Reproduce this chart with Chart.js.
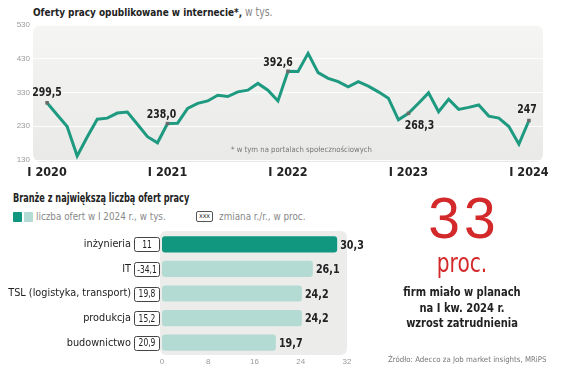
<!DOCTYPE html>
<html>
<head>
<meta charset="utf-8">
<script src="https://cdn.jsdelivr.net/npm/chart.js@4/dist/chart.umd.min.js"></script>
<style>
  body { margin:0; background:#fff; }
  #wrap { position:relative; width:564px; height:377px; overflow:hidden; background:#fff;
          font-family:"DejaVu Sans Condensed","Liberation Sans Narrow","Liberation Sans",sans-serif; color:#222; }
  .abs { position:absolute; white-space:nowrap; }
  .sqL { transform-origin:left center; }
  .sqC { transform-origin:center center; }
  canvas { position:absolute; }
</style>
</head>
<body>
<div id="wrap">
  <div class="abs sqL" style="left:33px;top:6px;font-size:11px;line-height:13px;transform:scaleX(0.9)">
    <b>Oferty pracy opublikowane w internecie*,</b><span style="color:#888;font-size:11.5px"> w tys.</span>
  </div>
  <canvas id="line" width="564" height="182" style="left:0;top:0"></canvas>
  <div class="abs" style="left:231px;top:145px;font-size:7.7px;line-height:10px;color:#777;">* w tym na portalach społecznościowych</div>

  <div class="abs sqL" style="left:13px;top:192px;font-size:11.5px;line-height:13px;font-weight:bold;transform:scaleX(0.79)">Branże z największą liczbą ofert pracy</div>
  <div class="abs" style="left:13px;top:212px;width:9px;height:10px;background:#11967f;border-radius:1px"></div>
  <div class="abs" style="left:24px;top:212px;width:9px;height:10px;background:#b4dbd3;border-radius:1px"></div>
  <div class="abs" style="left:36px;top:211px;font-size:9.8px;line-height:12px;color:#888;">liczba ofert w I 2024 r., w tys.</div>
  <div class="abs" style="left:196px;top:211px;width:15px;height:9px;border:1px solid #555;border-radius:2px;font-size:7px;line-height:9px;text-align:center;color:#333;">xxx</div>
  <div class="abs" style="left:219px;top:211px;font-size:9.8px;line-height:12px;color:#888;">zmiana r./r., w proc.</div>
  <canvas id="bars" width="390" height="145" style="left:0;top:225px"></canvas>

  <div class="abs" style="left:362px;width:200px;top:190px;text-align:center;color:#d3292a;font-family:'Liberation Sans',sans-serif;font-size:57px;line-height:57px;letter-spacing:4px;padding-left:4px;box-sizing:border-box;">33</div>
  <div class="abs sqC" style="left:362px;width:200px;top:249px;text-align:center;color:#d3292a;font-size:27px;line-height:27px;transform:scaleX(0.83)">proc.</div>
  <div class="abs sqC" style="left:362px;width:200px;top:284px;text-align:center;font-size:12.5px;line-height:15.5px;font-weight:bold;color:#222;transform:scaleX(0.885)">firm miało w planach<br>na I kw. 2024 r.<br>wzrost zatrudnienia</div>
  <div class="abs" style="left:388px;top:355px;font-size:7.8px;line-height:10px;color:#777;">Źródło: Adecco za Job market insights, MRiPS</div>
</div>
<script>
const FN = '"DejaVu Sans Condensed","Liberation Sans Narrow","Liberation Sans",sans-serif';

// monthly job offers online, Jan 2020 .. Jan 2024 (thousands)
const offers2020 = [299.5, 264, 229, 142, 198, 251, 254, 269, 272, 236, 199, 181];
const offers2021 = [238.0, 239, 283, 298, 305, 322, 318, 332, 337, 357, 337, 305];
const offers2022 = [392.6, 392, 446, 389, 372, 362, 347, 362, 349, 332, 313, 249];
const offers2023 = [268.3, 298, 329, 273, 310, 280, 286, 293, 260, 254, 229, 177];
const offers2024 = [247];
const monthly = [...offers2020, ...offers2021, ...offers2022, ...offers2023, ...offers2024];
const yearTicks = ['I 2020', 'I 2021', 'I 2022', 'I 2023', 'I 2024'];
const markIdx = [0, 12, 24, 36, 48];
const markText = ['299,5', '238,0', '392,6', '268,3', '247'];

// industries
const industries = ['inżynieria', 'IT', 'TSL (logistyka, transport)', 'produkcja', 'budownictwo'];
const jobOffers = [30.3, 26.1, 24.2, 24.2, 19.7];
const yoyChange = ['11', '-34,1', '19,8', '15,2', '20,9'];

// draw text squeezed horizontally (condensed look)
function squeeze(ctx, text, x, y, sx) {
  ctx.save();
  ctx.translate(x, y);
  ctx.scale(sx, 1);
  ctx.fillText(text, 0, 0);
  ctx.restore();
}

const lineBg = {
  id: 'lineBg',
  beforeDraw(chart) {
    const { ctx, chartArea: a } = chart;
    const g = ctx.createLinearGradient(0, a.top, 0, a.bottom);
    g.addColorStop(0, '#f5f5f4');
    g.addColorStop(1, '#e9e9e8');
    ctx.save();
    ctx.fillStyle = g;
    ctx.beginPath();
    ctx.roundRect(a.left, a.top, a.right - a.left, a.bottom - a.top + 2, 8);
    ctx.fill();
    ctx.restore();
  }
};

const markLabels = {
  id: 'markLabels',
  afterDatasetsDraw(chart) {
    const { ctx } = chart;
    const pts = chart.getDatasetMeta(0).data;
    const off = [[0, -10], [-6, -9], [-10, -9], [11, 12], [-2, -11]];
    ctx.save();
    ctx.font = 'bold 13px ' + FN;
    ctx.fillStyle = '#222';
    ctx.textAlign = 'center';
    ctx.textBaseline = 'middle';
    markIdx.forEach((idx, k) => {
      const p = pts[idx];
      squeeze(ctx, markText[k], p.x + off[k][0], p.y + off[k][1], 0.8);
    });
    ctx.restore();
  }
};

new Chart(document.getElementById('line'), {
  type: 'line',
  data: {
    datasets: [{
      data: monthly.map((v, i) => ({ x: i, y: v })),
      borderColor: '#1d9a80',
      borderWidth: 3,
      tension: 0,
      pointStyle: 'rect',
      pointRadius: c => markIdx.includes(c.dataIndex) ? 2.5 : 0,
      pointBackgroundColor: '#6b6b6b',
      pointBorderWidth: 0
    }]
  },
  options: {
    responsive: false, animation: false, devicePixelRatio: 1,
    layout: { padding: { top: 25, right: 21 } },
    plugins: { legend: { display: false }, tooltip: { enabled: false } },
    scales: {
      x: {
        type: 'linear', min: -1.4, max: 49.4,
        afterBuildTicks: s => { s.ticks = yearTicks.map((_, i) => ({ value: i * 12 })); },
        afterFit: s => { s.height = 22; },
        grid: { display: false, drawTicks: false }, border: { display: false },
        ticks: { autoSkip: false, maxRotation: 0, padding: 5, color: '#222',
          font: { family: FN, size: 12.5, weight: 'bold' },
          callback: v => yearTicks[v / 12] }
      },
      y: {
        min: 130, max: 530,
        afterFit: s => { s.width = 33; },
        grid: { color: 'rgba(255,255,255,0.9)', drawTicks: false }, border: { display: false },
        ticks: { stepSize: 100, padding: 3, color: '#9a9a9a', font: { family: '"Liberation Sans",sans-serif', size: 8 } }
      }
    }
  },
  plugins: [lineBg, markLabels]
});

const barBg = {
  id: 'barBg',
  beforeDraw(chart) {
    const { ctx, chartArea: a } = chart;
    ctx.save();
    ctx.fillStyle = '#ececeb';
    ctx.beginPath();
    ctx.roundRect(a.left - 2, a.top - 1, a.right - a.left + 2, a.bottom - a.top + 1, 6);
    ctx.fill();
    ctx.restore();
  }
};

const barLabels = {
  id: 'barLabels',
  afterDatasetsDraw(chart) {
    const { ctx, chartArea: a } = chart;
    const bars = chart.getDatasetMeta(0).data;
    ctx.save();
    ctx.textBaseline = 'middle';
    bars.forEach((b, i) => {
      ctx.font = 'bold 13px ' + FN;
      ctx.fillStyle = '#222';
      ctx.textAlign = 'left';
      squeeze(ctx, jobOffers[i].toFixed(1).replace('.', ','), b.x + 3, b.y + 1, 0.82);
      // y/y change box
      const bx = a.left - 28, bw = 25, bh = 14;
      ctx.strokeStyle = '#444';
      ctx.lineWidth = 1;
      ctx.beginPath();
      ctx.roundRect(bx + 0.5, Math.round(b.y - bh / 2) + 0.5, bw, bh, 2);
      ctx.stroke();
      ctx.font = '10.5px ' + FN;
      ctx.textAlign = 'center';
      squeeze(ctx, yoyChange[i], bx + bw / 2 + 0.5, b.y + 1, 0.8);
    });
    ctx.restore();
  }
};

new Chart(document.getElementById('bars'), {
  type: 'bar',
  data: {
    labels: industries,
    datasets: [{
      data: jobOffers,
      backgroundColor: industries.map((_, i) => i === 0 ? '#11967f' : '#b4dbd3'),
      borderRadius: 3, borderSkipped: false,
      barPercentage: 0.66, categoryPercentage: 1
    }]
  },
  options: {
    indexAxis: 'y',
    responsive: false, animation: false, devicePixelRatio: 1,
    layout: { padding: { top: 7, right: 43 } },
    plugins: { legend: { display: false }, tooltip: { enabled: false } },
    scales: {
      x: {
        min: 0, max: 32,
        afterFit: s => { s.height = 15; },
        grid: { display: false, drawTicks: false }, border: { display: false },
        ticks: { stepSize: 8, padding: 2, color: '#9a9a9a', font: { family: '"Liberation Sans",sans-serif', size: 8 } }
      },
      y: {
        afterFit: s => { s.width = 162; s.paddingTop = 0; s.paddingBottom = 0; },
        grid: { display: false, drawTicks: false }, border: { display: false },
        ticks: { padding: 31, color: '#222', font: { family: FN, size: 10.8 } }
      }
    }
  },
  plugins: [barBg, barLabels]
});
</script>
</body>
</html>
